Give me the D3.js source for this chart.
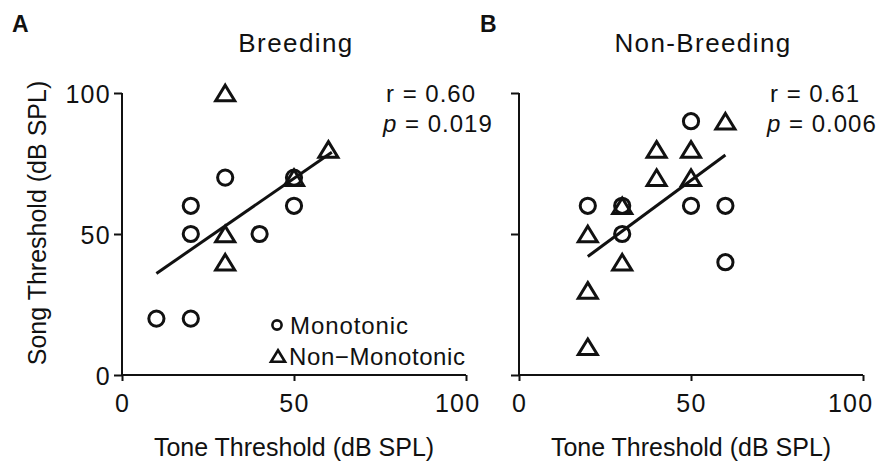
<!DOCTYPE html>
<html><head><meta charset="utf-8">
<script src="https://cdn.jsdelivr.net/npm/d3@7"></script>
<style>
body{margin:0;background:#fff}
text{font-family:"Liberation Sans",Arial,Helvetica,sans-serif;fill:#111}
</style>
</head><body>
<svg id="c" width="881" height="468"></svg>
<script>
// ---- data ----
const panelTitles = ["Breeding", "Non-Breeding"];
const panelLetters = ["A", "B"];
const xTicks = [0, 50, 100];
const yTicks = [0, 50, 100];
const breedMonoX = [10, 20, 20, 20, 30, 40, 50, 50];
const breedMonoY = [20, 20, 50, 60, 70, 50, 60, 70];
const breedNonX = [30, 30, 30, 50, 60];
const breedNonY = [100, 50, 40, 70, 80];
const nonbMonoX = [20, 30, 30, 50, 60, 60, 50];
const nonbMonoY = [60, 60, 50, 60, 60, 40, 90];
const nonbNonX = [20, 20, 20, 30, 30, 40, 40, 50, 50, 60];
const nonbNonY = [50, 30, 10, 60, 40, 80, 70, 80, 70, 90];
const fitXA = [10, 61], fitYA = [36, 79];
const fitXB = [20, 60], fitYB = [42, 78];
const rVals = ["0.60", "0.61"];
const pVals = ["0.019", "0.006"];
const legendLabels = ["Monotonic", "Non\u2212Monotonic"];
const xTitle = "Tone Threshold (dB SPL)";
const yTitle = "Song Threshold (dB SPL)";

const zip = (xs, ys) => xs.map((x, i) => ({x, y: ys[i]}));
const panels = [
  {mono: zip(breedMonoX, breedMonoY), non: zip(breedNonX, breedNonY), fit: zip(fitXA, fitYA), x0: 122, x1: 466, titleX: 296, letterX: 12, statX: 383},
  {mono: zip(nonbMonoX, nonbMonoY), non: zip(nonbNonX, nonbNonY), fit: zip(fitXB, fitYB), x0: 519, x1: 863, titleX: 703, letterX: 480, statX: 767}
];
const svg = d3.select("#c");
const ink = "#111";
const yScale = d3.scaleLinear().domain([0, 100]).range([375, 93]);
const triPath = (s) => { const h = s * 0.82, w = s / 2; return `M0,${-h/2}L${w},${h/2}L${-w},${h/2}Z`; };

panels.forEach((p, i) => {
  const x = d3.scaleLinear().domain([0, 100]).range([p.x0, p.x1]);
  const g = svg.append("g");
  // axes
  const xa = g.append("g").attr("transform", `translate(0,${yScale(0)})`)
    .call(d3.axisBottom(x).tickValues(xTicks).tickSize(6).tickPadding(6).tickFormat(d3.format("d")));
  const ya = g.append("g").attr("transform", `translate(${p.x0},0)`)
    .call(d3.axisLeft(yScale).tickValues(yTicks).tickSize(8).tickPadding(3).tickFormat(i === 0 ? d3.format("d") : () => ""));
  [xa, ya].forEach(a => {
    a.select(".domain").attr("stroke", ink).attr("stroke-width", 2);
    a.selectAll(".tick line").attr("stroke", ink).attr("stroke-width", 2);
    a.selectAll(".tick text").attr("fill", ink).style("font-size", "25px")
      .style("letter-spacing", "1.3px").style("font-family", '"Liberation Sans",Arial,sans-serif');
  });
  ya.select(".domain").attr("d", `M0,${yScale(0)}V${yScale(100)}`);
  xa.select(".domain").attr("d", `M${p.x0},0H${p.x1}`);
  xa.selectAll(".tick text").attr("dy", "1em");
  xa.selectAll(".tick text").filter(d => d === 100).attr("text-anchor", "end").attr("x", i === 0 ? 14 : 10);
  ya.selectAll(".tick text").attr("dy", "0.36em");

  // fit line
  g.append("path").datum(p.fit)
    .attr("d", d3.line().x(d => x(d.x)).y(d => yScale(d.y)))
    .attr("stroke", ink).attr("stroke-width", 3).attr("fill", "none");
  // markers
  g.selectAll("circle.m").data(p.mono).join("circle").attr("class", "m")
    .attr("cx", d => x(d.x)).attr("cy", d => yScale(d.y)).attr("r", 7.6)
    .attr("fill", "none").attr("stroke", ink).attr("stroke-width", 3);
  g.selectAll("path.t").data(p.non).join("path").attr("class", "t")
    .attr("transform", d => `translate(${x(d.x)},${yScale(d.y)})`)
    .attr("d", triPath(19)).attr("fill", "none").attr("stroke", ink)
    .attr("stroke-width", 3).attr("stroke-linejoin", "miter");

  // texts
  g.append("text").attr("x", p.titleX).attr("y", 52).attr("text-anchor", "middle")
    .style("font-size", "26px").style("letter-spacing", "1.4px").text(panelTitles[i]);
  g.append("text").attr("x", p.letterX).attr("y", 32).style("font-size", "23px")
    .style("font-weight", "bold").style("letter-spacing", "1px").text(panelLetters[i]);
  g.append("text").attr("x", (p.x0 + p.x1) / 2).attr("y", 456).attr("text-anchor", "middle")
    .style("font-size", "25px").text(xTitle);
  g.append("text").attr("x", p.statX + 3).attr("y", 102).style("font-size", "24px")
    .style("letter-spacing", "1px").text("r = " + rVals[i]);
  const pt = g.append("text").attr("x", p.statX).attr("y", 132).style("font-size", "24px")
    .style("letter-spacing", "1px");
  pt.append("tspan").style("font-style", "italic").text("p");
  pt.append("tspan").text(" = " + pVals[i]);

  if (i === 0) {
    g.append("text").attr("transform", `translate(46,223) rotate(-90)`).attr("text-anchor", "middle")
      .style("font-size", "25px").text(yTitle);
    // legend
    const lg = g.append("g");
    lg.append("circle").attr("cx", 277).attr("cy", 325).attr("r", 4.6)
      .attr("fill", "none").attr("stroke", ink).attr("stroke-width", 2.6);
    lg.append("path").attr("transform", "translate(278,356)").attr("d", triPath(14))
      .attr("fill", "none").attr("stroke", ink).attr("stroke-width", 2.6);
    lg.append("text").attr("x", 290).attr("y", 334).style("font-size", "24px")
      .style("letter-spacing", "0.9px").text(legendLabels[0]);
    lg.append("text").attr("x", 289).attr("y", 365).style("font-size", "24px")
      .style("letter-spacing", "0.6px").text(legendLabels[1]);
  }
});
</script>
</body></html>
